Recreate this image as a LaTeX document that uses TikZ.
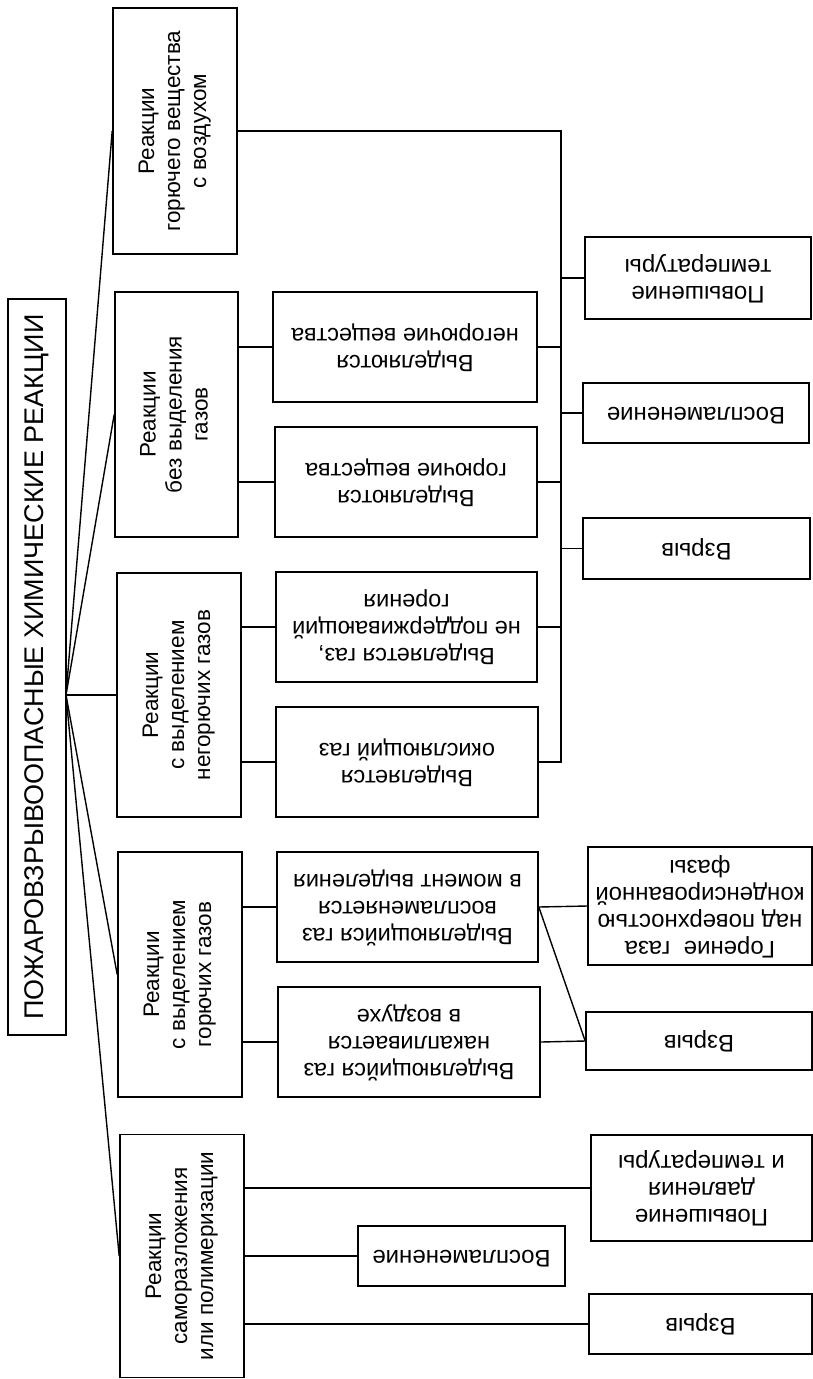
\documentclass[tikz,border=0pt]{standalone}
\usepackage{fontspec}
\setmainfont{Liberation Sans}
\usepackage{graphicx}

\newcommand{\vtxt}[1]{\rotatebox{90}{\begin{tabular}{@{}c@{}}#1\end{tabular}}}
\newcommand{\utxt}[1]{\rotatebox{180}{\begin{tabular}{@{}c@{}}#1\end{tabular}}}

\begin{document}
\begin{tikzpicture}[x=1pt,y=-1pt,line width=1.4pt,
  box/.style={draw,line width=1.6pt,inner sep=0pt},
  topbox/.style={box,font=\fontsize{27}{30}\selectfont},
  sortbox/.style={box,font=\fontsize{22.5}{26}\selectfont},
  kindbox/.style={box,font=\fontsize{23.5}{27}\selectfont},
  endbox/.style={box,font=\fontsize{24}{27}\selectfont}]
\useasboundingbox (0,0) rectangle (812,1379);
\node[topbox,minimum width=58,minimum height=736] (root) at (37,667) {\vtxt{ПОЖАРОВЗРЫВООПАСНЫЕ ХИМИЧЕСКИЕ РЕАКЦИИ}};
\node[sortbox,minimum width=124,minimum height=246] (air) at (175,131) {\vtxt{Реакции\\горючего вещества\\с воздухом}};
\node[sortbox,minimum width=123,minimum height=245] (nogas) at (176.5,414.5) {\vtxt{Реакции\\без выделения\\газов}};
\node[sortbox,minimum width=124,minimum height=244] (inert) at (179,695) {\vtxt{Реакции\\с выделением\\негорючих газов}};
\node[sortbox,minimum width=124,minimum height=245] (fuel) at (180,974.5) {\vtxt{Реакции\\с выделением\\горючих газов}};
\node[sortbox,minimum width=124,minimum height=243] (self) at (182,1256) {\vtxt{Реакции\\саморазложения\\или полимеризации}};
\node[kindbox,minimum width=264,minimum height=110] (inc) at (405,347) {\utxt{Выделяются\\негорючие вещества}};
\node[kindbox,minimum width=262,minimum height=110] (comb) at (406,482) {\utxt{Выделяются\\горючие вещества}};
\node[kindbox,minimum width=261,minimum height=110] (noburn) at (406.5,627) {\utxt{Выделяется газ,\\не поддерживающий\\горения}};
\node[kindbox,minimum width=262,minimum height=110] (oxid) at (407,762) {\utxt{Выделяется\\окисляющий газ}};
\node[kindbox,minimum width=261,minimum height=110] (flash) at (407.5,907) {\utxt{Выделяющийся газ\\воспламеняется\\в момент выделения}};
\node[kindbox,minimum width=262,minimum height=110] (accum) at (409,1042) {\utxt{Выделяющийся газ\\накапливается\\в воздухе}};
\node[endbox,minimum width=226,minimum height=82] (heat) at (698,278) {\utxt{Повышение\\температуры}};
\node[endbox,minimum width=226,minimum height=60] (ignite) at (696,413) {\utxt{Воспламенение}};
\node[endbox,minimum width=227,minimum height=61] (blast) at (696.5,548.5) {\utxt{Взрыв}};
\node[endbox,minimum width=224,minimum height=118] (surf) at (700,906) {\utxt{Горение~ газа\\над поверхностью\\конденсированной\\фазы}};
\node[endbox,minimum width=226,minimum height=58] (blasttwo) at (699,1041) {\utxt{Взрыв}};
\node[endbox,minimum width=221,minimum height=106] (press) at (701.5,1188) {\utxt{Повышение\\давления\\и температуры}};
\node[endbox,minimum width=207,minimum height=60] (ignitetwo) at (461.5,1256) {\utxt{Воспламенение}};
\node[endbox,minimum width=223,minimum height=60] (blastthree) at (700.5,1324) {\utxt{Взрыв}};
\coordinate (fan) at (66,695);
\coordinate (bus) at (561,0);
\foreach \n in {air,nogas,inert,fuel,self} \draw (fan) -- (\n.west);
\foreach \n in {inc,comb} \draw (nogas.east |- \n.west) -- (\n.west);
\foreach \n in {noburn,oxid} \draw (inert.east |- \n.west) -- (\n.west);
\foreach \n in {flash,accum} \draw (fuel.east |- \n.west) -- (\n.west);
\draw (air.east) -- (air.east -| bus) -- (oxid.east -| bus) -- (oxid.east);
\foreach \n in {inc,comb,noburn} \draw (\n.east) -- (\n.east -| bus);
\foreach \n in {heat,ignite,blast} \draw (\n.west) -- (\n.west -| bus);
\draw (flash.east) -- (surf.west);
\draw (flash.east) -- (blasttwo.west);
\draw (accum.east) -- (blasttwo.west);
\foreach \n in {press,ignitetwo,blastthree} \draw (\n.west -| self.east) -- (\n.west);
\end{tikzpicture}
\end{document}
